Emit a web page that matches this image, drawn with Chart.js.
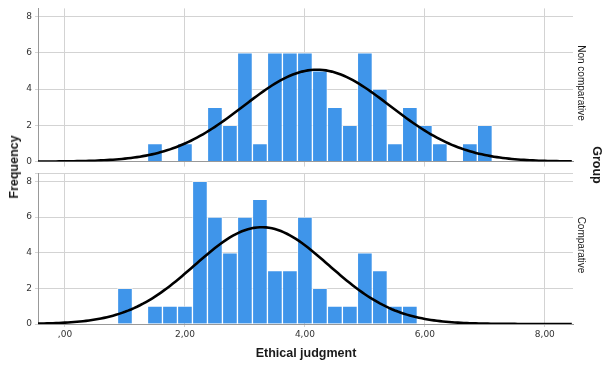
<!DOCTYPE html>
<html>
<head>
<meta charset="utf-8">
<script src="https://cdn.jsdelivr.net/npm/chart.js@4.4.0/dist/chart.umd.min.js"></script>
<style>
  body { margin: 0; background: #fff; font-family: "Liberation Sans", Arial, sans-serif; }
  #wrap { position: relative; width: 606px; height: 365px; overflow: hidden; }
  canvas { position: absolute; left: 0; }
  .lab { position: absolute; white-space: nowrap; color: #1a1a1a; transform-origin: center; }
  .title { font-weight: bold; font-size: 12.5px; }
  .strip { font-size: 10px; }
</style>
</head>
<body>
<div id="wrap">
  <canvas id="topPanel" width="606" height="170" style="top:0;width:606px;height:170px"></canvas>
  <canvas id="botPanel" width="606" height="200" style="top:165px;width:606px;height:200px"></canvas>
  <div class="lab title" style="left:14px;top:167px;transform:translate(-50%,-50%) rotate(-90deg)">Frequency</div>
  <div class="lab title" style="left:597px;top:165px;transform:translate(-50%,-50%) rotate(90deg)">Group</div>
  <div class="lab strip" style="left:581px;top:83px;transform:translate(-50%,-50%) rotate(90deg)">Non comparative</div>
  <div class="lab strip" style="left:581px;top:245px;transform:translate(-50%,-50%) rotate(90deg)">Comparative</div>
  <div class="lab title" style="left:306px;top:353px;transform:translate(-50%,-50%)">Ethical judgment</div>
</div>
<script>
// histogram bins (centre of each 0.25 wide bin)
const binCenters = [1.00, 1.25, 1.50, 1.75, 2.00, 2.25, 2.50, 2.75, 3.00, 3.25, 3.50, 3.75, 4.00,
                    4.25, 4.50, 4.75, 5.00, 5.25, 5.50, 5.75, 6.00, 6.25, 6.50, 6.75, 7.00]
const nonComparative = [0, 0, 1, 0, 1, 0, 3, 2, 6, 1, 6, 6, 6, 5, 3, 2, 6, 4, 1, 3, 2, 1, 0, 1, 2]
const comparative    = [2, 0, 1, 1, 1, 8, 6, 4, 6, 7, 3, 3, 6, 2, 1, 1, 4, 3, 1, 1, 0, 0, 0, 0, 0]

// normal curve fit for each group (mean, std dev, N)
const nonCompFit = { mean: 4.2, sd: 1.22, n: 62 }
const compFit = { mean: 3.28, sd: 1.12, n: 61 }
const binWidth = 0.25

const xTicks = [0, 2, 4, 6, 8]
const xTickLabels = [",00", "2,00", "4,00", "6,00", "8,00"]
const yTicks = [0, 2, 4, 6, 8]
const xMin = -0.45, xMax = 8.47, yMax = 8.45

const gridColor = '#d3d3d3'
const barColor = '#3f95ea'

function normalCurve(fit) {
    const pts = []
    for (let x = xMin; x <= xMax + 0.001; x += 0.05) {
        const z = (x - fit.mean) / fit.sd
        pts.push({ x: x, y: fit.n * binWidth * Math.exp(-0.5 * z * z) / (fit.sd * Math.sqrt(2 * Math.PI)) })
    }
    return pts
}

function makePanel(id, counts, fit, bottom) {
    const ctx = document.getElementById(id)
    return new Chart(ctx, {
        data: {
            datasets: [
                {
                    type: 'line',
                    data: normalCurve(fit),
                    borderColor: '#000',
                    borderWidth: 2.6,
                    pointRadius: 0,
                    tension: 0,
                    order: 0
                },
                {
                    type: 'bar',
                    data: binCenters.map((x, i) => ({ x: x, y: counts[i] || null })),
                    backgroundColor: barColor,
                    borderColor: 'rgba(255,255,255,0.6)',
                    borderWidth: 1,
                    barPercentage: 1,
                    categoryPercentage: 1,
                    order: 1
                }
            ]
        },
        options: {
            responsive: false,
            animation: false,
            layout: { padding: { left: 0, right: 33, top: bottom ? 2 : 4, bottom: 0 } },
            plugins: { legend: { display: false }, tooltip: { enabled: false } },
            scales: {
                x: {
                    type: 'linear',
                    min: xMin,
                    max: xMax,
                    offset: false,
                    afterBuildTicks: s => { s.ticks = xTicks.map(v => ({ value: v })) },
                    afterFit: s => { s.height = bottom ? 41 : 8 },
                    ticks: {
                        display: bottom,
                        callback: (v, i) => xTickLabels[i],
                        font: { size: 9, family: 'DejaVu Sans' },
                        color: '#333',
                        padding: 2,
                        maxRotation: 0
                    },
                    grid: { color: gridColor, tickLength: bottom ? 3 : 5, offset: false },
                    border: { color: '#999' }
                },
                y: {
                    min: 0,
                    max: yMax,
                    afterBuildTicks: s => {
                        const t = yTicks.map(v => ({ value: v }))
                        if (bottom) t.push({ value: yMax })
                        s.ticks = t
                    },
                    afterFit: s => { s.width = 38 },
                    ticks: {
                        callback: v => Number.isInteger(v) ? String(v) : '',
                        font: { size: 9, family: 'DejaVu Sans' },
                        color: '#333',
                        padding: 3
                    },
                    grid: { color: gridColor, tickLength: 3 },
                    border: { color: '#999' }
                }
            }
        }
    })
}

makePanel('topPanel', nonComparative, nonCompFit, false)
makePanel('botPanel', comparative, compFit, true)
</script>
</body>
</html>
